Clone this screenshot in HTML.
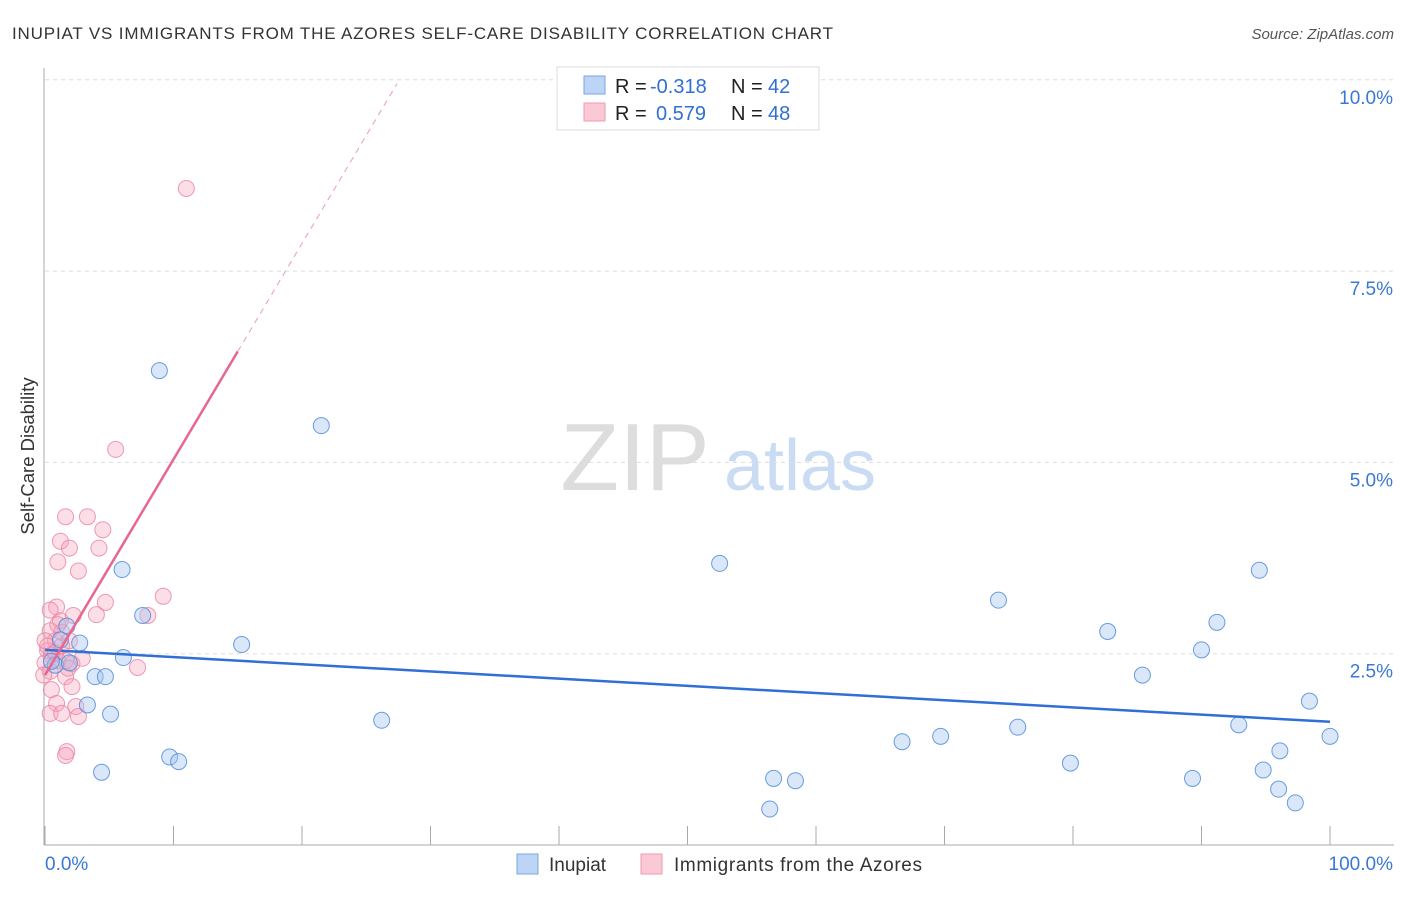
<!DOCTYPE html>
<html><head><meta charset="utf-8"><style>
body{margin:0;background:#fff;font-family:"Liberation Sans",sans-serif}
svg text{font-family:"Liberation Sans",sans-serif}
</style></head><body>
<svg id="chart" width="1406" height="892">
<text x="12" y="39" font-size="17" fill="#333" textLength="821">INUPIAT VS IMMIGRANTS FROM THE AZORES SELF-CARE DISABILITY CORRELATION CHART</text>
<text x="1394" y="39" font-size="15" fill="#555" text-anchor="end" font-style="italic">Source: ZipAtlas.com</text>
<text x="34" y="456" font-size="18.5" fill="#333" text-anchor="middle" transform="rotate(-90 34 456)">Self-Care Disability</text>
<g><text x="635" y="490" font-size="96" fill="#ddd" text-anchor="middle" font-family="Liberation Serif,serif">ZIP</text><text x="800" y="490" font-size="72" fill="#c9dcf3" text-anchor="middle">atlas</text></g>
<g id="grid"></g><g id="axes"></g><g id="pts"></g><g id="trend"></g>
<g>
<rect x="557" y="67" width="262" height="63" fill="#fff" stroke="#ddd"/>
<rect x="584" y="76" width="21" height="18" fill="#bcd4f5" stroke="#7aa6e6"/>
<rect x="584" y="103" width="21" height="18" fill="#fbc8d6" stroke="#ef9ab3"/>
<text x="615" y="93" font-size="20" fill="#222">R = <tspan x="650" fill="#2f6fd6">-0.318</tspan><tspan x="731">N = </tspan><tspan x="768" fill="#2f6fd6">42</tspan></text>
<text x="615" y="120" font-size="20" fill="#222">R = <tspan x="656" fill="#2f6fd6">0.579</tspan><tspan x="731">N = </tspan><tspan x="768" fill="#2f6fd6">48</tspan></text>
</g>
<g>
<rect x="517" y="854" width="21" height="20" fill="#bcd4f5" stroke="#7aa6e6"/>
<text x="549" y="871" font-size="19" fill="#333">Inupiat</text>
<rect x="641" y="854" width="21" height="20" fill="#fbc8d6" stroke="#ef9ab3"/>
<text x="674" y="871" font-size="19" fill="#333" textLength="248">Immigrants from the Azores</text>
</g>
</svg>
<script>
const yTicks=[2.5,5.0,7.5,10.0];
const yTickLabels=["2.5%","5.0%","7.5%","10.0%"];
const xEndLabels=["0.0%","100.0%"];
const blueX=[8.9,21.5,6.0,7.6,1.7,2.7,15.3,6.1,3.9,4.7,3.3,5.1,26.2,9.7,10.4,4.4,0.8,1.2,0.5,52.5,74.2,82.7,91.2,94.5,90.0,85.4,98.4,75.7,92.9,69.7,66.7,100.0,96.1,79.8,94.8,56.7,58.4,89.3,96.0,97.3,56.4,1.9];
const blueY=[6.2,5.48,3.6,3.0,2.86,2.64,2.62,2.45,2.2,2.2,1.83,1.71,1.63,1.15,1.09,0.95,2.35,2.68,2.4,3.68,3.2,2.79,2.91,3.59,2.55,2.22,1.88,1.54,1.57,1.42,1.35,1.42,1.23,1.07,0.98,0.87,0.84,0.87,0.73,0.55,0.47,2.38];
const pinkX=[11.0,5.5,1.6,3.3,4.5,1.2,1.9,4.2,1.0,2.6,4.7,9.2,0.9,8.0,4.0,2.2,1.2,0.4,0.8,1.3,0.2,0.5,1.0,0.0,1.6,2.1,2.9,1.8,7.2,0.4,1.6,2.1,0.5,0.9,2.4,0.4,1.3,2.6,1.7,1.6,0.2,0.8,1.3,1.9,0.0,0.4,1.0,-0.1];
const pinkY=[8.58,5.17,4.29,4.29,4.12,3.97,3.88,3.88,3.7,3.58,3.17,3.25,3.11,3.0,3.01,3.0,2.93,2.8,2.67,2.6,2.54,2.48,2.41,2.38,2.41,2.37,2.44,2.31,2.32,2.27,2.2,2.07,2.03,1.85,1.81,1.72,1.72,1.68,1.22,1.17,2.6,2.51,2.78,2.67,2.67,3.07,2.88,2.22];
const blueTrend=[[0,2.55],[100,1.61]];
const pinkTrendSolid=[[0,2.22],[15.0,6.45]];
const pinkTrendDash=[[15.0,6.45],[27.4,9.95]];
const X=v=>45+v*12.85, Y=v=>845-v*76.52;
const NS="http://www.w3.org/2000/svg";
function mk(p,t,a){const e=document.createElementNS(NS,t);for(const k in a)e.setAttribute(k,a[k]);p.appendChild(e);return e;}
const grid=document.getElementById('grid'),axes=document.getElementById('axes'),pts=document.getElementById('pts'),tr=document.getElementById('trend');
yTicks.forEach((t,i)=>{
 const l=mk(grid,'line',{x1:45,x2:1394,y1:Y(t),y2:Y(t),stroke:'#ddd','stroke-dasharray':'4,4'});
 
 
 const tx=mk(axes,'text',{x:1393,y:Y(t)+24,'font-size':19,fill:'#3a78d6','text-anchor':'end'});tx.textContent=yTickLabels[i];
 
 
});
mk(axes,'line',{x1:44,x2:44,y1:68,y2:845,stroke:'#aaa'});
mk(axes,'line',{x1:44,x2:1394,y1:845,y2:845,stroke:'#aaa'});
for(let i=0;i<=10;i++){mk(axes,'line',{x1:X(i*10),x2:X(i*10),y1:826,y2:845,stroke:'#aaa'});}
const xl=mk(axes,'text',{x:45,y:870,'font-size':19,fill:'#3a78d6'});xl.textContent=xEndLabels[0];


const xr=mk(axes,'text',{x:1393,y:870,'font-size':19,fill:'#3a78d6','text-anchor':'end'});xr.textContent=xEndLabels[1];


pinkX.forEach((x,i)=>{const c=mk(pts,'circle',{cx:X(x),cy:Y(pinkY[i]),r:8,fill:'rgba(246,160,186,0.35)',stroke:'rgba(234,130,162,0.8)','stroke-width':1});
 
 });
blueX.forEach((x,i)=>{const c=mk(pts,'circle',{cx:X(x),cy:Y(blueY[i]),r:8,fill:'rgba(160,196,240,0.4)',stroke:'rgba(80,140,220,0.85)','stroke-width':1});
 
 });
function line(p,a){return mk(tr,'line',Object.assign({x1:X(p[0][0]),y1:Y(p[0][1]),x2:X(p[1][0]),y2:Y(p[1][1])},a));}
const b=line(blueTrend,{stroke:'#2f6fd6','stroke-width':2.5});


const p1=line(pinkTrendSolid,{stroke:'#e8668f','stroke-width':2.5});


const p2=line(pinkTrendDash,{stroke:'#eeaabf','stroke-width':1.2,'stroke-dasharray':'6,5'});


</script>
</body></html>
